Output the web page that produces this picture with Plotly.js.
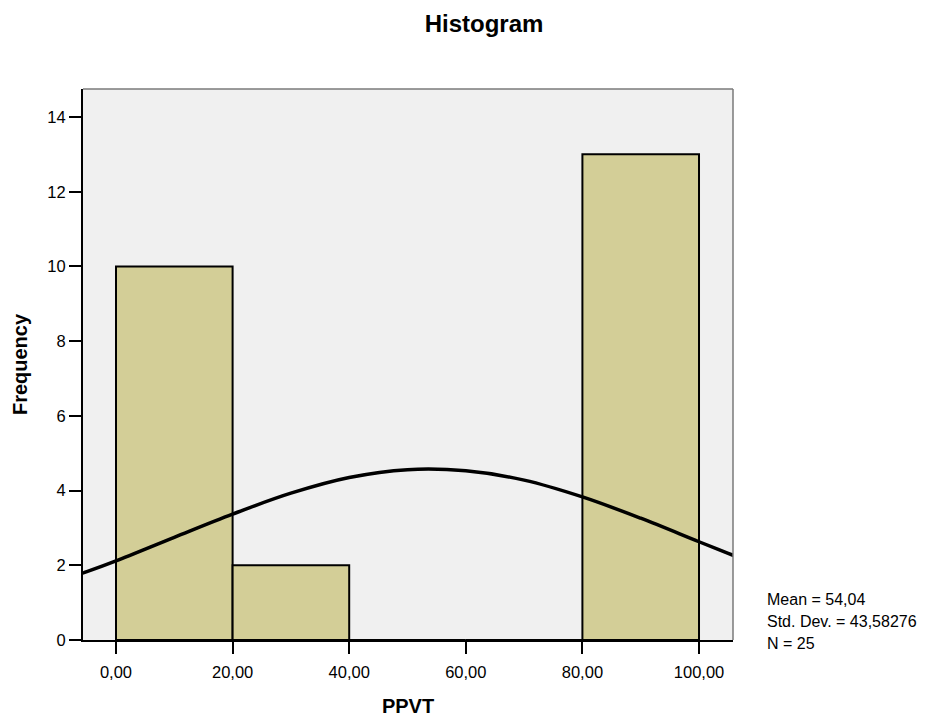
<!DOCTYPE html>
<html>
<head>
<meta charset="utf-8">
<script src="https://cdn.plot.ly/plotly-3.0.1.min.js"></script>
<style>html,body{margin:0;padding:0;background:#fff;}#chart{width:930px;height:720px;}</style>
</head>
<body>
<div id="chart"></div>
<script>
// Histogram bins (centres, width 20) and frequencies
const binCenters = [10, 30, 50, 70, 90];
const frequencies = [10, 2, 0, 0, 13];
// Normal curve points
const curveX = [-10, -5, 0, 10, 20, 30, 40, 50, 60, 70, 80, 90, 100, 105, 110];
const curveY = [1.56, 1.83, 2.12, 2.75, 3.37, 3.93, 4.35, 4.56, 4.53, 4.28, 3.83, 3.26, 2.63, 2.32, 2.01];
// Tick labels
const xTickVals = [0, 20, 40, 60, 80, 100];
const xTickText = ["0,00", "20,00", "40,00", "60,00", "80,00", "100,00"];
const yTickVals = [0, 2, 4, 6, 8, 10, 12, 14];
const statsLines = ["Mean = 54,04", "Std. Dev. = 43,58276", "N = 25"];

const FONT = "Liberation Sans, Arial, Helvetica, sans-serif";

const traces = [
  {
    type: "bar",
    x: binCenters,
    y: frequencies,
    width: 20,
    marker: {color: "#D3CE97", line: {color: "#000000", width: 2}},
    hoverinfo: "x+y",
    showlegend: false
  },
  {
    type: "scatter",
    mode: "lines",
    x: curveX,
    y: curveY,
    line: {color: "#000000", width: 3.5, shape: "spline"},
    showlegend: false
  }
];

const plotTop = 89, plotBottom = 640;
const statsY = [599, 621, 643];
const annotations = statsLines.map((t, i) => ({
  text: t,
  xref: "paper", yref: "paper",
  x: (765 - 83) / 650,
  y: (plotBottom - statsY[i]) / (plotBottom - plotTop),
  xanchor: "left", yanchor: "middle",
  showarrow: false,
  font: {family: FONT, size: 16, color: "#000"}
}));

const layout = {
  width: 930, height: 720,
  margin: {l: 83, r: 197, t: 89, b: 80, autoexpand: false},
  paper_bgcolor: "#ffffff",
  plot_bgcolor: "#F0F0F0",
  bargap: 0,
  font: {family: FONT, size: 16, color: "#000"},
  title: {
    text: "<b>Histogram</b>",
    font: {family: FONT, size: 24, color: "#000"},
    xref: "container", x: 484 / 930, xanchor: "center",
    yref: "container", y: 1 - 24 / 720, yanchor: "middle"
  },
  xaxis: {
    range: [-5.66, 105.83],
    tickmode: "array",
    tickvals: xTickVals,
    ticktext: xTickText,
    ticks: "outside", ticklen: 12, tickwidth: 2, tickcolor: "#000",
    ticklabelstandoff: 4,
    showline: true, linecolor: "#000", linewidth: 2,
    showgrid: false, zeroline: false,
    tickfont: {family: FONT, size: 16.5, color: "#000"},
    title: {text: "<b>PPVT</b>", font: {family: FONT, size: 20, color: "#000"}, standoff: 19},
    fixedrange: true
  },
  yaxis: {
    range: [0, 14.75],
    tickmode: "array",
    tickvals: yTickVals,
    ticks: "outside", ticklen: 12, tickwidth: 2, tickcolor: "#000",
    showline: true, linecolor: "#000", linewidth: 2,
    showgrid: false, zeroline: false,
    tickfont: {family: FONT, size: 16.5, color: "#000"},
    title: {text: "<b>Frequency</b>", font: {family: FONT, size: 20, color: "#000"}, standoff: 14},
    fixedrange: true
  },
  shapes: [
    {type: "line", xref: "paper", yref: "paper", x0: 0, x1: 1, y0: 1, y1: 1, line: {color: "#7a7a7a", width: 1.5}},
    {type: "line", xref: "paper", yref: "paper", x0: 1, x1: 1, y0: 0, y1: 1, line: {color: "#7a7a7a", width: 1.5}}
  ],
  annotations: annotations,
  showlegend: false
};

Plotly.newPlot("chart", traces, layout, {displayModeBar: false, staticPlot: true});
</script>
</body>
</html>
